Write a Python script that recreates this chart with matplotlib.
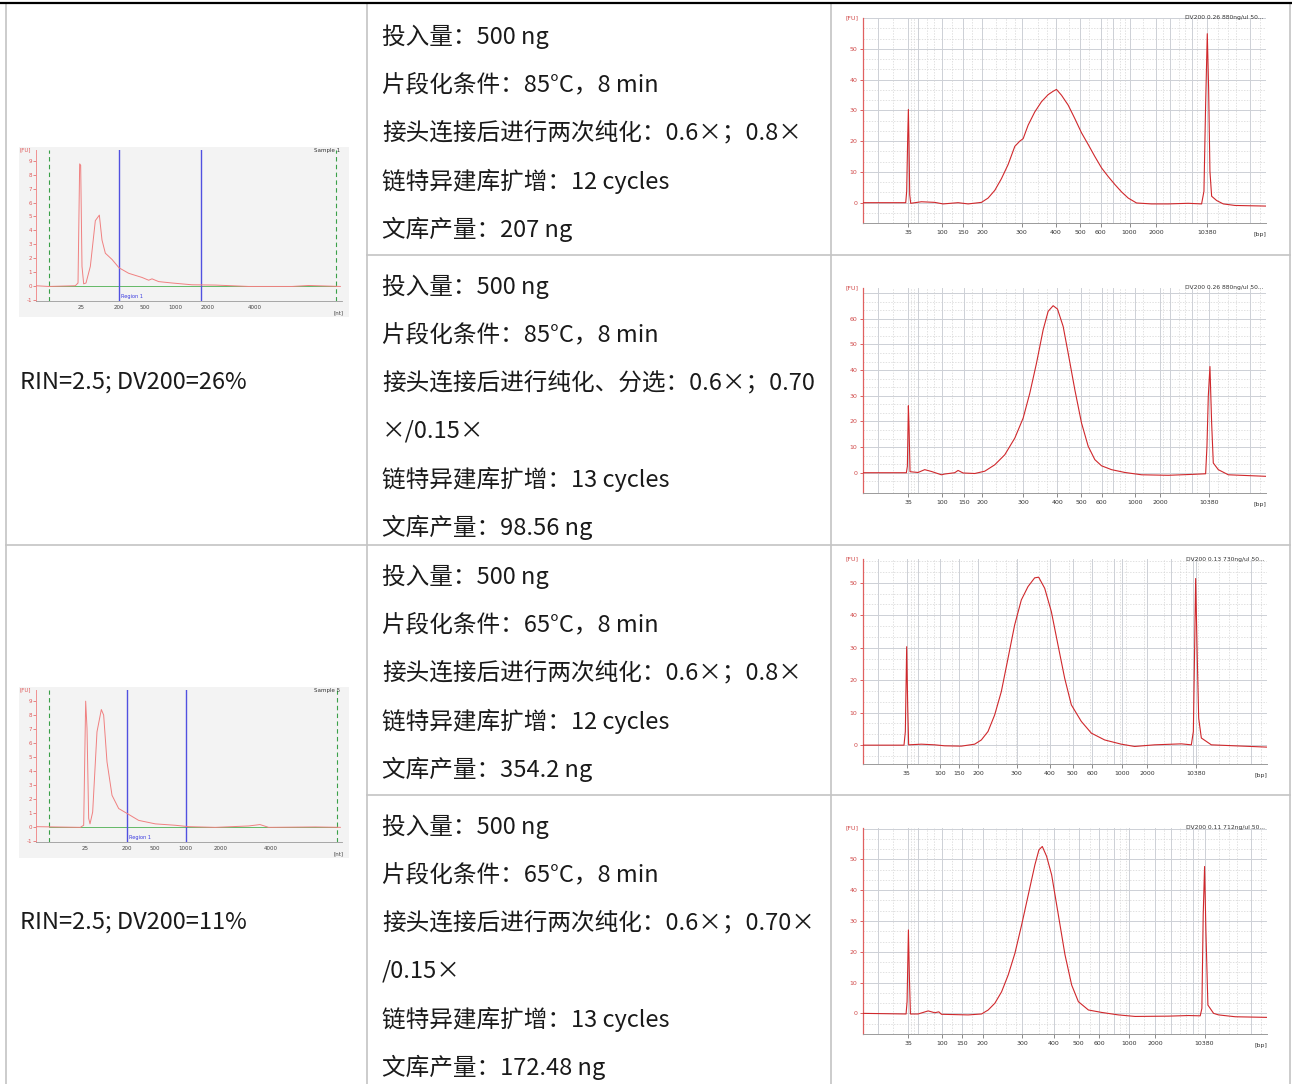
import numpy as np
import matplotlib.pyplot as plt

plt.rcParams['font.family'] = ['Noto Sans CJK SC', 'DejaVu Sans']

W, H = 1292, 1084

# ---- table text ----
rin_text = ['RIN=2.5; DV200=26%', 'RIN=2.5; DV200=11%']
cell_text = [
    ['投入量：500 ng', '片段化条件：85°C，8 min', '接头连接后进行两次纯化：0.6×；0.8×',
     '链特异建库扩增：12 cycles', '文库产量：207 ng'],
    ['投入量：500 ng', '片段化条件：85°C，8 min', '接头连接后进行纯化、分选：0.6×；0.70',
     '×/0.15×', '链特异建库扩增：13 cycles', '文库产量：98.56 ng'],
    ['投入量：500 ng', '片段化条件：65°C，8 min', '接头连接后进行两次纯化：0.6×；0.8×',
     '链特异建库扩增：12 cycles', '文库产量：354.2 ng'],
    ['投入量：500 ng', '片段化条件：65°C，8 min', '接头连接后进行两次纯化：0.6×；0.70×',
     '/0.15×', '链特异建库扩增：13 cycles', '文库产量：172.48 ng'],
]
dv_text = ['DV200 0.26 880ng/ul 50...', 'DV200 0.26 880ng/ul 50...',
           'DV200 0.13 730ng/ul 50...', 'DV200 0.11 712ng/ul 50...']

# ---- DNA electropherograms (x = % of run window, y = FU) ----
bp_labels = ['35', '100', '150', '200', '300', '400', '500', '600', '1000', '2000', '10380']
bp_ticks = [
    [11.26, 19.54, 24.75, 29.64, 39.40, 47.85, 53.89, 58.94, 66.14, 72.77, 85.43],
    [11.26, 19.54, 25.17, 29.64, 39.74, 48.18, 54.14, 59.19, 67.47, 73.68, 85.93],
    [10.81, 18.98, 23.84, 28.55, 38.04, 46.29, 51.90, 56.77, 64.03, 70.30, 82.34],
    [11.24, 19.50, 24.55, 29.59, 39.34, 47.27, 53.39, 58.43, 65.95, 72.31, 84.55],
]
grid_major_extra = [3.8, 13.6, 62.1, 76.2, 81.6, 96.0]
grid_minor = [7.5, 12.0, 12.6, 15.9, 17.5, 22.0, 27.0, 33.0, 35.5, 37.8, 43.5, 45.6,
              51.0, 56.2, 60.5, 63.7, 65.0, 69.5, 74.4, 78.5, 80.0, 83.0, 88.0,
              90.5, 92.5, 98.5]
dna_ylim = [(-6.6, 60), (-7.9, 72), (-5.8, 57.3), (-6.7, 60.2)]
dna_yticks = [[0, 10, 20, 30, 40, 50], [0, 10, 20, 30, 40, 50, 60],
              [0, 10, 20, 30, 40, 50], [0, 10, 20, 30, 40, 50]]

dna1_x = [0, 10.6, 10.84, 11.09, 11.26, 11.42, 11.59, 11.84, 14.49, 17.8, 19.87, 23.6,
          26.08, 29.39, 31.04, 32.7, 34.35, 36.01, 37.67, 38.91, 39.74, 40.98, 42.63,
          44.29, 45.94, 47.18, 48.01, 49.26, 50.91, 52.57, 54.22, 55.88, 57.53, 59.19,
          60.84, 62.5, 64.16, 65.81, 67.88, 71.6, 75.74, 80.71, 84.02, 84.6, 85.02,
          85.43, 85.76, 86.09, 86.51, 87.75, 89.4, 92.3, 100]
dna1_y = [0, 0, 3.7, 21.0, 30.3, 18.9, 2.6, -0.2, 0.3, 0.1, -0.4, 0.0,
          -0.4, 0.1, 1.5, 4.0, 7.8, 12.4, 18.3, 20.0, 20.8, 25.2, 29.5,
          32.8, 35.1, 36.2, 36.8, 34.9, 31.7, 27.3, 22.7, 18.9, 15.0, 11.3,
          8.5, 5.9, 3.5, 1.5, -0.1, -0.4, -0.4, -0.2, -0.4, 3.7, 31.9,
          54.9, 37.3, 10.2, 2.1, 0.7, -0.4, -0.9, -1.1]

dna2_x = [0, 10.76, 11.01, 11.26, 11.42, 11.67, 13.66, 15.31, 16.97, 19.45, 20.28, 22.76,
          23.59, 24.83, 27.73, 30.22, 32.7, 35.18, 37.67, 39.74, 41.39, 43.05, 44.7,
          45.94, 47.18, 48.26, 49.67, 50.91, 52.57, 54.22, 55.88, 57.53, 59.19, 61.67,
          64.98, 69.12, 75.74, 82.36, 85.02, 85.35, 85.68, 86.09, 86.51, 86.92, 88.16,
          90.65, 100]
dna2_y = [0, 0, 2.5, 26.1, 18.1, 0.4, 0.1, 1.2, 0.5, -0.8, -0.5, 0,
          0.9, -0.1, -0.3, 0.6, 3.1, 7.0, 13.5, 21.3, 31.0, 42.7, 55.7,
          62.9, 65.1, 63.8, 57.0, 46.6, 32.3, 19.4, 10.3, 5.1, 2.7, 1.2,
          0.1, -0.8, -1.0, -0.6, -0.4, 10.3, 29.7, 41.4, 19.4, 3.8, 1.2,
          -0.8, -1.4]

dna3_x = [0, 10.15, 10.48, 10.81, 11.06, 11.3, 14.44, 17.74, 20.21, 24.34, 27.64, 29.29,
          30.94, 32.59, 34.24, 35.89, 37.54, 39.19, 40.84, 42.49, 43.48, 44.97, 46.62,
          48.27, 49.92, 51.57, 54.04, 56.52, 59.82, 63.94, 67.24, 72.19, 78.8, 81.27,
          81.77, 82.1, 82.34, 82.67, 83.09, 83.75, 86.22, 92, 100]
dna3_y = [0, 0, 4.2, 30.3, 12.4, 0.1, 0.3, 0.1, -0.2, -0.3, 0.3, 1.6,
          4.2, 9.3, 16.5, 26.7, 37.0, 44.7, 48.8, 51.5, 51.7, 48.3, 41.1,
          30.8, 20.6, 12.4, 7.3, 3.7, 1.6, 0.3, -0.4, 0.1, 0.4, 0.1,
          4.2, 30.8, 51.3, 30.8, 8.3, 2.2, 0.1, -0.2, -0.6]

dna4_x = [0, 10.66, 10.91, 11.24, 11.49, 11.74, 13.64, 16.12, 17.77, 18.76, 19.42, 26.03,
          29.34, 30.99, 32.64, 34.3, 35.95, 37.6, 39.26, 40.91, 42.56, 43.55, 44.38,
          45.45, 46.69, 48.35, 50.0, 51.65, 53.31, 55.79, 59.09, 63.22, 67.36, 75.62,
          80.58, 83.47, 83.88, 84.21, 84.55, 84.88, 85.37, 86.78, 88.02, 92.15, 100]
dna4_y = [0, -0.2, 3.8, 27.1, 11.4, -0.2, -0.2, 0.8, 0.2, 0.5, -0.3, -0.5,
          -0.2, 1.1, 3.3, 7.0, 12.5, 19.5, 28.7, 38.5, 48.3, 53.1, 54.2,
          51.0, 45.0, 32.0, 19.0, 9.2, 3.8, 1.1, 0.3, -0.5, -1.0, -0.9,
          -0.7, -0.8, 1.6, 32.0, 47.7, 26.6, 2.7, 0, -0.5, -1.1, -1.3]

dna_x = [dna1_x, dna2_x, dna3_x, dna4_x]
dna_y = [dna1_y, dna2_y, dna3_y, dna4_y]

# ---- RNA electropherograms ----
nt_labels = ['25', '200', '500', '1000', '2000', '4000']
nt_ticks = [[14.6, 27.1, 35.7, 45.5, 56.2, 71.5], [16.2, 29.7, 38.8, 48.8, 60.2, 76.6]]
region_lines = [[27.1, 54.0], [29.7, 48.9]]
marker_lines = [[4.1, 98.0], [4.1, 98.4]]
sample_names = ['Sample 1', 'Sample 5']

rna1_x = [0, 4.14, 12.85, 13.73, 14.27, 14.6, 15.03, 15.58, 16.34, 17.76, 19.39, 20.7,
          21.57, 22.66, 24.84, 27.12, 30.28, 34.64, 36.82, 37.91, 40.09, 44.44, 50.98,
          58.61, 69.5, 83.66, 89.11, 99.46]
rna1_y = [0, -0.05, 0, 0.2, 8.8, 8.7, 1.4, 0.14, 0.2, 1.4, 4.7, 5.1,
          3.3, 2.35, 1.9, 1.3, 0.9, 0.6, 0.4, 0.5, 0.3, 0.2, 0.07,
          0.05, -0.05, -0.05, 0.02, -0.05]
rna2_x = [0, 14.49, 15.58, 16.23, 16.67, 17.21, 17.65, 18.52, 19.93, 21.35, 22.11, 23.2,
          24.84, 27.02, 29.74, 33.55, 39.0, 45.53, 49.89, 58.61, 69.5, 73.2, 76.03,
          91.29, 99.46]
rna2_y = [0, -0.05, 0.1, 9.0, 7.05, 0.6, 0.2, 1.05, 6.8, 8.4, 8.0, 4.65,
          2.25, 1.3, 0.95, 0.45, 0.2, 0.1, 0, -0.05, 0.05, 0.15, -0.05,
          -0.02, -0.05]
rna_x = [rna1_x, rna2_x]
rna_y = [rna1_y, rna2_y]

fig = plt.figure(figsize=(W / 100, H / 100), dpi=100)


def box(l, t, r, b):
    return [l / W, 1 - b / H, (r - l) / W, (b - t) / H]


# ---- table frame ----
tab = fig.add_axes([0, 0, 1, 1])
tab.set_xlim(0, W)
tab.set_ylim(H, 0)
tab.axis('off')
gc = '#c4c4c4'
for xv in [5.5, 367, 831, 1290]:
    tab.plot([xv, xv], [3, H], color=gc, lw=1.2)
tab.plot([367, 1290], [255, 255], color=gc, lw=1.2)
tab.plot([5.5, 1290], [545, 545], color=gc, lw=1.2)
tab.plot([367, 1290], [795, 795], color=gc, lw=1.2)
tab.plot([0, W], [2.5, 2.5], color='black', lw=1.6)

row_tops = [5, 255, 545, 795]
for top, lines in zip(row_tops, cell_text):
    for i, s in enumerate(lines):
        tab.text(382, top + 32 + i * 48, s, fontsize=17, va='center', ha='left',
                 color='#1a1a1a')
for yv, s in zip([382, 922], rin_text):
    tab.text(20, yv, s, fontsize=17, va='center', ha='left', color='#1a1a1a')

# ---- DNA panels ----
dna_boxes = [(863, 18, 1266, 223), (863, 288, 1266, 493),
             (863, 559, 1267, 764), (863, 828, 1267, 1034)]
red = '#d0282c'
for k in range(4):
    ax = fig.add_axes(box(*dna_boxes[k]))
    ax.set_facecolor('none')
    ax.set_xlim(0, 100)
    ax.set_ylim(*dna_ylim[k])
    lo, hi = dna_ylim[k]
    for yv in np.arange(0, hi + 0.1, 10):
        ax.axhline(yv, color='#cdd0d6', lw=0.7, zorder=1)
    for yv in np.arange(-10 / 3, hi, 10 / 3):
        if abs(yv / 10 - round(yv / 10)) > 0.05:
            ax.axhline(yv, color='#d4d4d4', lw=0.5, ls=(0, (2, 2)), zorder=1)
    for xv in bp_ticks[k] + grid_major_extra:
        ax.axvline(xv, color='#cdd0d6', lw=0.7, zorder=1)
    for xv in grid_minor:
        ax.axvline(xv, color='#d4d4d4', lw=0.5, ls=(0, (2, 2)), zorder=1)
    ax.plot(dna_x[k], dna_y[k], color=red, lw=0.8, zorder=3)
    ax.set_xticks(bp_ticks[k])
    ax.set_xticklabels(bp_labels, fontsize=4.5, family='DejaVu Sans', color='#333333')
    ax.set_yticks(dna_yticks[k])
    ax.set_yticklabels([str(v) for v in dna_yticks[k]], fontsize=4.5,
                       family='DejaVu Sans', color='#d04848')
    ax.tick_params(axis='x', length=3, width=0.6, color='#777777', pad=2)
    ax.tick_params(axis='y', length=2, width=0.6, color='#d04848', pad=2)
    for sp in ['top', 'right']:
        ax.spines[sp].set_visible(False)
    ax.spines['left'].set_color('#e06060')
    ax.spines['left'].set_linewidth(0.9)
    ax.spines['bottom'].set_color('#9a9a9a')
    ax.spines['bottom'].set_linewidth(0.7)
    ax.text(-0.01, 1.0, '[FU]', transform=ax.transAxes, fontsize=4.5, color='#d04848',
            ha='right', va='center', family='DejaVu Sans')
    ax.text(1.0, -0.055, '[bp]', transform=ax.transAxes, fontsize=4.5, color='#333333',
            ha='right', va='center', family='DejaVu Sans')
    ax.text(0.995, 1.0, dv_text[k], transform=ax.transAxes, fontsize=4.3,
            color='#333333', ha='right', va='center', family='DejaVu Sans')

# ---- RNA panels ----
img_boxes = [(19, 147, 349, 317), (19, 687, 349, 858)]
rna_boxes = [(36, 150, 342, 301), (36, 690, 342, 842)]
for k in range(2):
    bg = fig.add_axes(box(*img_boxes[k]))
    bg.set_facecolor('#f3f3f3')
    bg.set_xticks([])
    bg.set_yticks([])
    for sp in bg.spines.values():
        sp.set_visible(False)

    ax = fig.add_axes(box(*rna_boxes[k]))
    ax.set_facecolor('none')
    ax.set_xlim(0, 100)
    ax.set_ylim(-1.1, 9.8)
    m1, m2 = marker_lines[k]
    ax.plot([m1, m2], [0, 0], color='#4caf50', lw=0.6, zorder=2)
    for xv in marker_lines[k]:
        ax.axvline(xv, color='#3aa048', lw=0.8, ls=(0, (4, 3)), zorder=2)
    for xv in region_lines[k]:
        ax.axvline(xv, color='#5050e0', lw=1.0, zorder=2)
    ax.plot(rna_x[k], rna_y[k], color='#f08080', lw=0.7, zorder=3)
    ax.text(region_lines[k][0] + 0.6, -0.8, 'Region 1', fontsize=3.6, color='#3a3ae0',
            va='center', family='DejaVu Sans')
    ax.text(99.5, 9.75, sample_names[k], fontsize=4, color='#333333', ha='right',
            va='center', family='DejaVu Sans')
    ax.set_xticks(nt_ticks[k])
    ax.set_xticklabels(nt_labels, fontsize=4, family='DejaVu Sans', color='#444444')
    ax.set_yticks(range(-1, 10))
    ax.set_yticklabels([str(v) for v in range(-1, 10)], fontsize=4,
                       family='DejaVu Sans', color='#e05858')
    ax.tick_params(axis='x', length=0, pad=3)
    ax.tick_params(axis='y', length=2, width=0.5, color='#e05858', pad=1)
    for sp in ['top', 'right']:
        ax.spines[sp].set_visible(False)
    ax.spines['left'].set_color('#f09090')
    ax.spines['left'].set_linewidth(0.7)
    ax.spines['bottom'].set_color('#9a9a9a')
    ax.spines['bottom'].set_linewidth(0.6)
    ax.text(-0.015, 1.0, '[FU]', transform=ax.transAxes, fontsize=4, color='#e05858',
            ha='right', va='center', family='DejaVu Sans')
    ax.text(1.005, -0.075, '[nt]', transform=ax.transAxes, fontsize=4, color='#444444',
            ha='right', va='center', family='DejaVu Sans')

fig.savefig('out.png', dpi=100)
